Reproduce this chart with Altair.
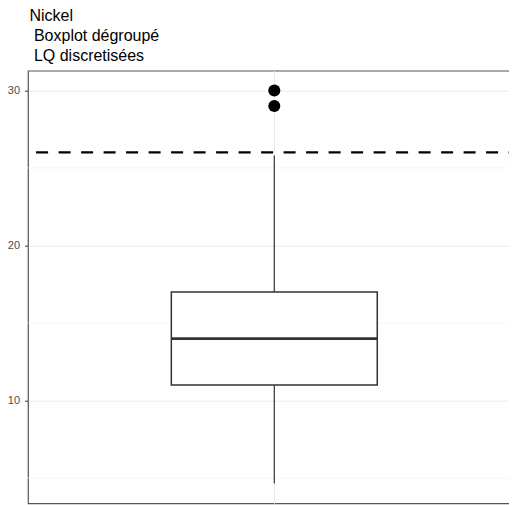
import altair as alt
import pandas as pd

# ---- data ----
categories = ["Nickel"]
q1 = [11.0]
median = [14.0]
q3 = [17.0]
whisker_low = [4.65]
whisker_high = [25.8]
outliers = [29.0, 30.0]
seuil = [26.0]
major_ticks = [10, 20, 30]
minor_grid = [5, 15, 25]
y_domain = [3.38, 31.27]

box_df = pd.DataFrame({
    "cat": categories, "q1": q1, "median": median, "q3": q3,
    "wlow": whisker_low, "whigh": whisker_high,
})
out_df = pd.DataFrame({"cat": categories * len(outliers), "value": outliers})
seuil_df = pd.DataFrame({"value": seuil})
minor_df = pd.DataFrame({"value": minor_grid})

FONT = "Liberation Sans"

x_enc = alt.X(
    "cat:N",
    scale=alt.Scale(paddingInner=0, paddingOuter=0.696),
    axis=alt.Axis(grid=True, labels=False, ticks=False, domain=False, title=None,
                  bandPosition=0.5, gridColor="#EBEBEB", gridWidth=1),
)
y_scale = alt.Scale(domain=y_domain, nice=False, zero=False)
y_axis = alt.Axis(values=major_ticks, title=None, domain=False, grid=True,
                  gridColor="#EBEBEB", gridWidth=1, tickColor="#333333",
                  tickSize=3.5, labelPadding=5, labelFont=FONT, labelFontSize=11,
                  labelColor="#4D4D4D")

base = alt.Chart(box_df)

minor = alt.Chart(minor_df).mark_rule(color="#F2F2F2", strokeWidth=0.8).encode(
    y=alt.Y("value:Q", scale=y_scale, axis=y_axis)
)

whisk_hi = base.mark_rule(color="#333333", strokeWidth=1.2).encode(
    x=x_enc, y=alt.Y("q3:Q", scale=y_scale), y2="whigh:Q"
)
whisk_lo = base.mark_rule(color="#333333", strokeWidth=1.2).encode(
    x=x_enc, y=alt.Y("wlow:Q", scale=y_scale), y2="q1:Q"
)
box = base.mark_bar(fill="white", stroke="#333333", strokeWidth=1.5).encode(
    x=x_enc, y=alt.Y("q1:Q", scale=y_scale), y2="q3:Q"
)
med = base.mark_bar(fill="white", stroke="#333333", strokeWidth=2.7).encode(
    x=x_enc, y=alt.Y("median:Q", scale=y_scale), y2="median:Q"
)
pts = alt.Chart(out_df).mark_circle(size=145, color="black", opacity=1).encode(
    x=x_enc, y=alt.Y("value:Q", scale=y_scale)
)
dash = alt.Chart(seuil_df).mark_rule(color="black", strokeWidth=2.3,
                                      strokeDash=[12, 10.5]).encode(
    y=alt.Y("value:Q", scale=y_scale)
)

chart = alt.layer(minor, whisk_hi, whisk_lo, box, med, pts, dash).properties(
    width=492.6,
    height=432.6,
    background="white",
    title=alt.TitleParams(
        text=["Nickel", "\u200b\u00a0Boxplot dégroupé", "\u200b\u00a0LQ discretisées"],
        anchor="start", frame="group", font=FONT, fontSize=16,
        fontWeight="normal", color="black", lineHeight=19.6,
        baseline="bottom", offset=8, dy=17, dx=1.5,
    ),
    autosize=alt.AutoSizeParams(type="none"),
    padding={"left": 20, "top": 62.7, "right": -11.6, "bottom": 2},
).configure_view(stroke="#555555", strokeWidth=1.2)

chart.save("out.html", embed_options={"renderer": "svg", "actions": False})
